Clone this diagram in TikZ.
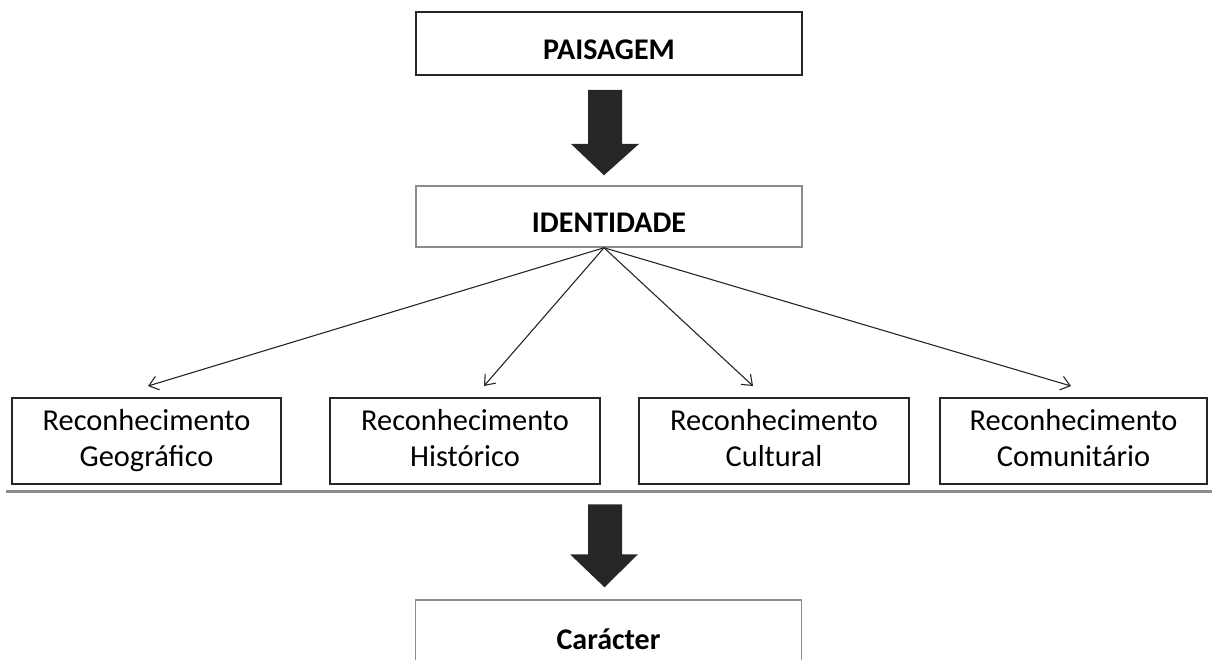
\documentclass[tikz,border=0pt]{standalone}
\usepackage{fontspec}
\setmainfont{Carlito}
\usetikzlibrary{arrows.meta,calc}
\definecolor{boxdark}{HTML}{262626}
\definecolor{boxgray}{HTML}{8C8C8C}
\tikzset{
  topbox/.style={draw=boxdark, line width=1.8pt, minimum width=386pt, minimum height=63pt, inner sep=0pt, text height=32pt, text depth=0pt, font=\fontsize{30}{36}\selectfont\bfseries},
  graybox/.style={draw=boxgray, line width=1.5pt, minimum width=386pt, minimum height=61pt, inner sep=0pt, text height=32pt, text depth=0pt, font=\fontsize{30}{36}\selectfont\bfseries},
  recbox/.style={draw=boxdark, line width=1.4pt, minimum height=86pt, inner sep=0pt, font=\fontsize{30.4}{36}\selectfont},
  thinarrow/.style={draw=boxdark, line width=1.1pt, -{Straight Barb[length=9pt,width=14pt,line width=1.1pt]}},
  bigarrow/.style={fill=boxdark, draw=none},
  sepline/.style={draw=boxgray, line width=3pt}
}
\newcommand{\twolines}[2]{\raisebox{-2pt}{\begin{tabular}{@{}c@{}}#1\\#2\end{tabular}}}
\begin{document}
\begin{tikzpicture}[x=1pt,y=-1pt]
\useasboundingbox (0,0) rectangle (1212,659);
\clip (0,0) rectangle (1212,659);
\node[topbox] (pais) at (609,43.5) {PAISAGEM};
\node[graybox] (ident) at (609,216.5) {IDENTIDADE};
\node[recbox, minimum width=269pt] (geo) at (146.5,441) {\twolines{Reconhecimento}{Geográfico}};
\node[recbox, minimum width=270pt] (hist) at (465,441) {\twolines{Reconhecimento}{Histórico}};
\node[recbox, minimum width=270pt] (cult) at (774,441) {\twolines{Reconhecimento}{Cultural}};
\node[recbox, minimum width=267pt] (comm) at (1073.5,441) {\twolines{Reconhecimento}{Comunitário}};
\node[graybox, minimum height=66pt] (car) at (608.5,633) {Carácter};
% big arrows
\draw[bigarrow] ($(pais.south)+(-21,14)$) -- ++(34,0) -- ++(0,54) -- ++(17,0) -- ($(ident.north)+(-5,-10)$) -- ($(pais.south)+(-38,68)$) -- ++(17,0) -- cycle;
\coordinate (sep) at (6,491);
\coordinate (sepend) at (1212,491);
\draw[sepline] (sep) -- (sepend);
\draw[bigarrow] ($(car.north)+(-20.5,-95)$) -- ++(34,0) -- ++(0,50) -- ++(16,0) -- ($(car.north)+(-4,-12)$) -- ($(car.north)+(-38.5,-45)$) -- ++(18,0) -- cycle;
% thin arrows
\coordinate (tg) at (148,386);
\coordinate (th) at (484,386);
\coordinate (tc) at (753,386);
\coordinate (tm) at (1071,386);
\coordinate (src) at ($(ident.south)+(-5,0)$);
\draw[thinarrow] (src) -- (tg);
\draw[thinarrow] (src) -- (th);
\draw[thinarrow] (src) -- (tc);
\draw[thinarrow] (src) -- (tm);
\end{tikzpicture}
\end{document}
